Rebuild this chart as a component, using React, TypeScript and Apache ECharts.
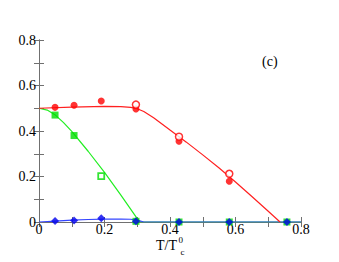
import React, { useEffect, useRef } from "react";
import * as echarts from "echarts";

const redFilledX = [0.049, 0.107, 0.19, 0.296, 0.4275, 0.581];
const redFilledY = [0.504, 0.513, 0.532, 0.497, 0.355, 0.179];
const redOpenX = [0.296, 0.4275, 0.581];
const redOpenY = [0.516, 0.375, 0.212];
const greenFilledX = [0.049, 0.107, 0.296, 0.4275, 0.581, 0.757];
const greenFilledY = [0.47, 0.38, 0.003, 0, 0, 0];
const greenOpenX = [0.19];
const greenOpenY = [0.202];
const blueX = [0.049, 0.107, 0.19, 0.296, 0.4275, 0.581, 0.757];
const blueY = [0.004, 0.007, 0.016, 0.003, 0, 0, 0];

const redCurveX = [0, 0.1, 0.2, 0.25, 0.28, 0.3, 0.32, 0.35, 0.4, 0.45, 0.5, 0.55, 0.6, 0.65, 0.7, 0.736];
const redCurveY = [0.5, 0.505, 0.508, 0.507, 0.504, 0.498, 0.486, 0.458, 0.404, 0.351, 0.295, 0.237, 0.176, 0.112, 0.047, 0];
const greenCurveX = [0, 0.025, 0.05, 0.075, 0.1, 0.15, 0.2, 0.25, 0.3, 0.31, 0.8];
const greenCurveY = [0.5, 0.492, 0.47, 0.437, 0.398, 0.311, 0.218, 0.118, 0.015, 0, 0];
const blueCurveX = [0, 0.05, 0.1, 0.15, 0.2, 0.25, 0.28, 0.3, 0.32, 0.8];
const blueCurveY = [0, 0.004, 0.008, 0.011, 0.013, 0.013, 0.012, 0.008, 0, 0];

const zip = (xs: number[], ys: number[]) => xs.map((x, i) => [x, ys[i]]);

const FONT = "Liberation Serif";
const AXIS_COLOR = "#707070";

const fmt = (v: number) => {
  const k = Math.round(v * 10);
  if (k % 2 !== 0) return "";
  return k === 0 ? "0" : (k / 10).toFixed(1);
};

export default function App() {
  const ref = useRef<HTMLDivElement>(null);
  useEffect(() => {
    if (!ref.current) return;
    const chart = echarts.init(ref.current, undefined, { renderer: "svg" });
    const axisCommon = {
      type: "value",
      min: 0,
      max: 0.8,
      interval: 0.1,
      splitLine: { show: false },
      axisLine: { show: true, lineStyle: { color: AXIS_COLOR, width: 1 } },
      axisTick: { show: true, inside: true, length: 5, lineStyle: { color: AXIS_COLOR } },
    };
    chart.setOption({
      animation: false,
      textStyle: { fontFamily: FONT },
      grid: { left: 39, top: 40, right: 38, bottom: 40 },
      xAxis: [
        {
          ...axisCommon,
          position: "bottom",
          axisLabel: { formatter: fmt, fontFamily: FONT, fontSize: 14, lineHeight: 11, color: "#000", margin: 2 },
        },
        { ...axisCommon, position: "top", axisLabel: { show: false } },
      ],
      yAxis: [
        {
          ...axisCommon,
          position: "left",
          axisLabel: { formatter: fmt, fontFamily: FONT, fontSize: 14, color: "#000", margin: 3 },
        },
        { ...axisCommon, position: "right", axisLabel: { show: false } },
      ],
      graphic: [
        { type: "text", left: 156, top: 238, style: { text: "T/T", fontFamily: FONT, fontSize: 14, lineHeight: 12, fill: "#000" } },
        { type: "text", left: 178.5, top: 235.5, style: { text: "0", fontFamily: FONT, fontSize: 9, lineHeight: 8, fill: "#000" } },
        { type: "text", left: 180.5, top: 247, style: { text: "c", fontFamily: FONT, fontSize: 9, lineHeight: 8, fill: "#000" } },
        { type: "text", left: 262, top: 54, style: { text: "(c)", fontFamily: FONT, fontSize: 14, fill: "#000" } },
      ],
      series: [
        {
          type: "line", data: zip(greenCurveX, greenCurveY), smooth: false,
          showSymbol: false, lineStyle: { color: "#22ee22", width: 1.2 }, z: 2,
        },
        {
          type: "line", data: zip(blueCurveX, blueCurveY), smooth: false,
          showSymbol: false, lineStyle: { color: "#3344ff", width: 1.2 }, z: 2,
        },
        {
          type: "line", data: zip(redCurveX, redCurveY), smooth: false,
          showSymbol: false, lineStyle: { color: "#ff2020", width: 1.2 }, z: 2,
        },
        {
          type: "scatter", data: zip(redFilledX, redFilledY), symbol: "circle", symbolSize: 7,
          itemStyle: { color: "#ff0000" }, clip: false, z: 3,
        },
        {
          type: "scatter", data: zip(redOpenX, redOpenY), symbol: "circle", symbolSize: 7,
          itemStyle: { color: "#ffffff", borderColor: "#ff0000", borderWidth: 1.5 }, clip: false, z: 4,
        },
        {
          type: "scatter", data: zip(greenFilledX, greenFilledY), symbol: "rect", symbolSize: 7,
          itemStyle: { color: "#00dd00" }, clip: false, z: 3,
        },
        {
          type: "scatter", data: zip(greenOpenX, greenOpenY), symbol: "rect", symbolSize: 6,
          itemStyle: { color: "#ffffff", borderColor: "#00dd00", borderWidth: 1.8 }, clip: false, z: 3,
        },
        {
          type: "scatter", data: zip(blueX, blueY), symbol: "diamond", symbolSize: 8,
          itemStyle: { color: "#0000ee" }, clip: false, z: 5,
        },
      ],
    });
    return () => chart.dispose();
  }, []);
  return <div ref={ref} style={{ width: 339, height: 262, position: "absolute", left: 0, top: 0 }} />;
}
